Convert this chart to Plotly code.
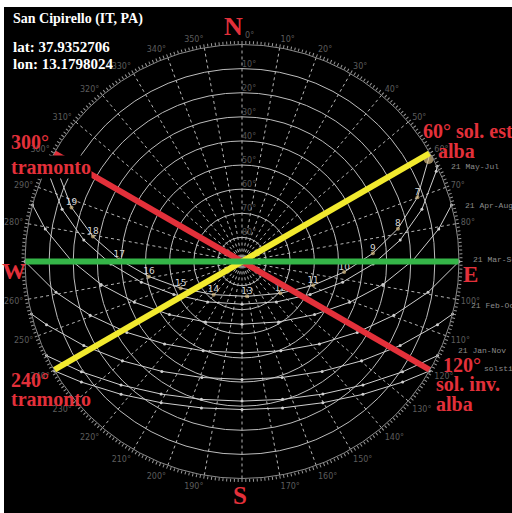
import plotly.graph_objects as go

# ---------------- data ----------------
location = "San Cipirello (IT, PA)"
lat_txt = "lat: 37.9352706"
lon_txt = "lon: 13.1798024"

# highlighted day (21 Jun): sunrise, clock hours 6..20, sunset
jun_az = [59.7, 61.2, 69.9, 78.1, 86.4, 95.9, 108.5, 129.6, 171.9, 220.6, 246.5, 260.8, 270.9, 279.5, 287.6, 296.1, 300.3]
jun_el = [0.0, 1.7, 12.5, 23.9, 35.6, 47.4, 58.9, 69.3, 75.4, 71.9, 62.3, 50.9, 39.1, 27.3, 15.8, 4.9, 0.0]
jun_lbl = ["", "", "7", "8", "9", "10", "11", "12", "13", "14", "15", "16", "17", "18", "19", "20", ""]

# other sun paths (azimuth, elevation)
may_jul_az = [64.0, 65.1, 73.8, 82.3, 91.1, 101.6, 115.8, 139.6, 180.0, 220.4, 244.2, 258.4, 268.9, 277.7, 286.2, 294.9, 296.0]
may_jul_el = [0.0, 1.2, 12.3, 23.8, 35.6, 47.4, 58.6, 68.0, 72.3, 68.0, 58.6, 47.4, 35.6, 23.8, 12.3, 1.2, 0.0]
apr_aug_az = [74.9, 80.6, 89.6, 99.3, 110.8, 126.2, 148.8, 180.0, 211.2, 233.8, 249.2, 260.7, 270.4, 279.4, 285.1]
apr_aug_el = [0.0, 7.3, 19.1, 30.8, 42.3, 52.7, 60.7, 64.0, 60.7, 52.7, 42.3, 30.8, 19.1, 7.3, 0.0]
mar_sep_az = [90.0, 99.4, 109.5, 121.6, 136.8, 156.5, 180.0, 203.5, 223.2, 238.4, 250.5, 260.6, 270.0]
mar_sep_el = [0.0, 11.8, 23.2, 33.9, 43.1, 49.6, 52.1, 49.6, 43.1, 33.9, 23.2, 11.8, 0.0]
feb_oct_az = [104.0, 107.9, 118.0, 129.7, 143.9, 160.9, 180.0, 199.1, 216.1, 230.3, 242.0, 252.1, 256.0]
feb_oct_el = [0.0, 4.8, 15.7, 25.5, 33.6, 39.1, 41.1, 39.1, 33.6, 25.5, 15.7, 4.8, 0.0]
jan_nov_az = [115.7, 124.5, 135.6, 148.6, 163.6, 180.0, 196.4, 211.4, 224.4, 235.5, 244.3]
jan_nov_el = [0.0, 9.2, 18.3, 25.6, 30.4, 32.1, 30.4, 25.6, 18.3, 9.2, 0.0]
dec_az = [120.3, 126.9, 137.7, 150.2, 164.5, 180.0, 195.5, 209.8, 222.3, 233.1, 239.7]
dec_el = [0.0, 6.7, 15.5, 22.5, 27.0, 28.6, 27.0, 22.5, 15.5, 6.7, 0.0]

# reference directions (azimuth pairs, on the horizon)
red_dir = [300, 120]
yellow_dir = [240, 60]
green_dir = [270, 90]

date_labels = ["21 May-Jul", "21 Apr-Aug", "21 Mar-Sep", "21 Feb-Oct", "21 Jan-Nov", "solstice"]
elev_ticks = [10, 20, 30, 40, 50, 60, 70, 80]
elev_labels = ["10°", "20°", "30°", "40°", "50°", "60°", "70°", "80°"]
hidden_az_labels = [90, 180, 270]   # covered by the cardinal letters in the reference

# ---------------- styles ----------------
W, H = 512, 513
RED = "#e3303a"
YEL = "#f2ea2e"
GRN = "#35b548"
SERIF = "Liberation Serif"
MONO = "Liberation Mono"


def px(x):
    return x / W


def py(y):
    return 1 - y / H


fig = go.Figure()

# azimuth spokes (dashed)
r_sp, t_sp = [], []
for a in range(0, 360, 10):
    r_sp += [0, 90, None]
    t_sp += [a, a, None]
fig.add_trace(go.Scatterpolar(r=r_sp, theta=t_sp, mode="lines",
                              line=dict(color="#b5b5b5", width=1, dash="3px,3px"),
                              hoverinfo="skip"))

# elevation labels along the north spoke
fig.add_trace(go.Scatterpolar(r=elev_ticks, theta=[0] * len(elev_ticks), mode="text",
                              text=elev_labels, textposition="top right",
                              textfont=dict(size=8, color="#555555", family="DejaVu Sans"),
                              hoverinfo="skip"))

# thin sun paths
for az, el in [(may_jul_az, may_jul_el), (apr_aug_az, apr_aug_el), (mar_sep_az, mar_sep_el),
               (feb_oct_az, feb_oct_el), (jan_nov_az, jan_nov_el), (dec_az, dec_el)]:
    fig.add_trace(go.Scatterpolar(r=el, theta=az, mode="lines+markers",
                                  line=dict(color="#cfcfcf", width=1),
                                  marker=dict(size=3, color="#cfcfcf"),
                                  hoverinfo="skip"))

# highlighted day
sizes = [0, 10] + [4] * (len(jun_az) - 3) + [0]
fig.add_trace(go.Scatterpolar(r=jun_el, theta=jun_az, mode="lines+markers",
                              line=dict(color="#cdcdcd", width=1),
                              marker=dict(size=sizes, color="#d8bd85", line=dict(width=0)),
                              hoverinfo="skip"))
fig.add_trace(go.Scatterpolar(r=jun_el, theta=jun_az, mode="text", text=jun_lbl,
                              textposition="top center",
                              textfont=dict(size=9, color="#d6d6d6", family="DejaVu Sans"),
                              hoverinfo="skip"))

# direction lines
for dirs, col in [(red_dir, RED), (yellow_dir, YEL), (green_dir, GRN)]:
    fig.add_trace(go.Scatterpolar(r=[0, 0], theta=dirs, mode="lines",
                                  line=dict(color=col, width=6), hoverinfo="skip"))

ann = []


def add(text, x, y, size, color, family=SERIF, bold=True, xanchor="left", bg=None):
    d = dict(text=text, x=px(x), y=py(y), xref="paper", yref="paper",
             xanchor=xanchor, yanchor="middle", showarrow=False,
             font=dict(size=size, color=color, family=family, weight="bold" if bold else "normal"),
             borderpad=0)
    if bg:
        d["bgcolor"] = bg
    ann.append(d)


add(location, 12, 18.5, 14, "white")
add(lat_txt, 12, 47, 15, "white")
add(lon_txt, 12, 64, 15, "white")

add("N", 233, 26, 26, RED, xanchor="center")
add("S", 240, 495, 25, RED, xanchor="center")
add("W", 14, 271, 24, RED, xanchor="center")
add("E", 470, 274, 23, RED, xanchor="center")

add("300°", 10, 141.5, 20, RED)
add("tramonto", 10, 166.5, 20, RED, bg="black")
add("60° sol. est", 422, 130.5, 20, RED)
add("alba", 437, 151, 20, RED)
add("120°", 442, 364.5, 20, RED)
add("sol. inv.", 435, 383.5, 20, RED)
add("alba", 435, 404, 20, RED)
add("240°", 10, 379.5, 20, RED)
add("tramonto", 10, 399, 20, RED)

for txt, (x, y) in zip(date_labels, [(450, 167), (464, 205), (472, 259), (470, 305), (457, 350), (483, 368)]):
    add(txt, x, y, 8, "#8c8c8c", family=MONO, bold=False)


def az_label(v):
    if v % 10 or v in hidden_az_labels:
        return ""
    if v == 0:
        return "\u2007\u2007\u20070°"
    return f"{v}°"


fig.update_layout(
    width=W, height=H, margin=dict(l=0, r=0, t=0, b=0),
    paper_bgcolor="white", showlegend=False,
    shapes=[dict(type="rect", xref="paper", yref="paper", x0=px(4), x1=1, y0=0, y1=py(7),
                 fillcolor="black", line=dict(width=0), layer="below")],
    annotations=ann,
    polar=dict(
        domain=dict(x=[px(25), px(459)], y=[py(478.5), py(44.5)]),
        bgcolor="black",
        angularaxis=dict(rotation=90, direction="clockwise", tickmode="array",
                         tickvals=list(range(360)),
                         ticktext=[az_label(v) for v in range(360)],
                         ticks="outside", ticklen=3, tickwidth=1, tickcolor="#9a9a9a",
                         showline=True, linecolor="#8a8a8a", linewidth=1, showgrid=False,
                         tickfont=dict(size=8, color="#5c5c5c", family="DejaVu Sans")),
        radialaxis=dict(range=[90, 0], tickmode="array", tickvals=elev_ticks,
                        showticklabels=False, angle=90,
                        showline=False, showgrid=True, gridcolor="#bdbdbd", gridwidth=1,
                        ticks=""),
    ),
)

fig.write_html("out.html", config={"displayModeBar": False},
               post_script="document.body.style.margin='0';document.body.style.overflow='hidden';")
